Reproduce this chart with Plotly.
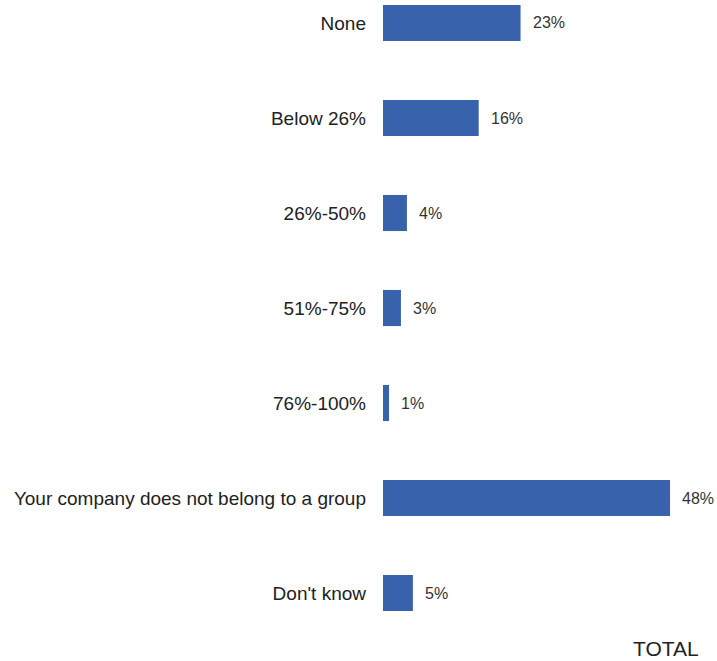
import plotly.graph_objects as go

categories = ["None", "Below 26%", "26%-50%", "51%-75%", "76%-100%",
              "Your company does not belong to a group", "Don't know"]
values = [23, 16, 4, 3, 1, 48, 5]
value_labels = ["23%", "16%", "4%", "3%", "1%", "48%", "5%"]

BAR = "#3862ab"
FONT = "Liberation Sans Narrow, Arial Narrow, Liberation Sans, Arial, sans-serif"

fig = go.Figure(go.Bar(
    x=values, y=categories, orientation="h",
    marker=dict(color=BAR, line=dict(width=0)),
    width=0.38, hoverinfo="skip",
))

for c, v, t in zip(categories, values, value_labels):
    fig.add_annotation(x=v, y=c, text=t, showarrow=False, xanchor="left",
                       xshift=10, font=dict(family=FONT, size=16, color="#333333"))

fig.add_annotation(
    xref="paper", yref="paper", text="TOTAL", showarrow=False,
    x=(697 - 383) / (717 - 383 - 35), xanchor="right", xshift=4,
    y=-(648 - 620) / 620, yanchor="middle",
    font=dict(family="Liberation Sans, Arial, sans-serif", size=21, color="#222222"),
)

fig.update_layout(
    width=717, height=661,
    margin=dict(l=383, r=35, t=0, b=41, pad=0),
    paper_bgcolor="white", plot_bgcolor="white",
    showlegend=False,
    xaxis=dict(range=[0, 50], visible=False, fixedrange=True),
    yaxis=dict(range=[6.284, -0.242], showgrid=False, zeroline=False,
               showline=False, ticks="", ticklabelstandoff=16,
               tickfont=dict(family=FONT, size=19, color="#222222")),
)
fig.write_html("out.html")
